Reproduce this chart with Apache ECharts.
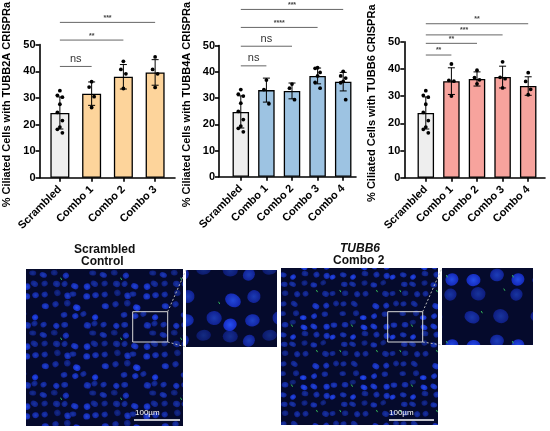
<!DOCTYPE html>
<html>
<head>
<meta charset="utf-8">
<script src="https://cdn.jsdelivr.net/npm/echarts@6/dist/echarts.min.js"></script>
<style>
    html, body { margin: 0; padding: 0; background: #fff; }
    #main { width: 550px; height: 431px; }
</style>
</head>
<body>
<div id="main"></div>
<script>
    // ---- data ----
    var cats2a = ['Scrambled', 'Combo 1', 'Combo 2', 'Combo 3'];
    var cats4a = ['Scrambled', 'Combo 1', 'Combo 2', 'Combo 3', 'Combo 4'];
    var cats6 = ['Scrambled', 'Combo 1', 'Combo 2', 'Combo 3', 'Combo 4'];

    var yTicks = [0, 10, 20, 30, 40, 50];

    var scrambledPts = [32.0, 30.3, 29.6, 27.0, 24.0, 21.0, 18.6, 17.8, 16.5];

    var mean2a = [23.8, 30.9, 37.1, 38.7];
    var sd2a = [5.9, 4.3, 4.5, 4.7];
    var pts2a = [scrambledPts, [35.3, 33.3, 29.8, 25.8], [42.8, 39.8, 38.2, 32.8], [44.4, 39.8, 38.2, 33.2]];
    var sig2a = [[0, 1, 40.9, 'ns'], [0, 2, 50.6, '**'], [0, 3, 57.1, '***']];

    var mean4a = [23.8, 31.8, 31.5, 37.0, 34.9];
    var sd4a = [5.9, 4.4, 2.9, 2.9, 3.4];
    var pts4a = [scrambledPts, [35.5, 32.0, 26.8], [34.0, 32.5, 28.3], [40.0, 39.8, 38.3, 37.0, 34.6, 32.5], [38.7, 37.0, 36.2, 35.0, 34.5, 28.3]];
    var sig4a = [[0, 1, 40.7, 'ns'], [0, 2, 47.9, 'ns'], [0, 3, 54.8, '****'], [0, 4, 61.4, '***']];

    var mean6 = [23.8, 35.5, 36.3, 37.0, 33.7];
    var sd6 = [5.9, 4.9, 2.6, 4.0, 3.4];
    var pts6 = [scrambledPts, [41.8, 35.8, 35.5, 30.0], [39.5, 36.8, 36.0, 34.5], [42.6, 36.9, 36.4, 33.0], [38.6, 35.4, 32.5, 30.5]];
    var sig6 = [[0, 1, 45.1, '**'], [0, 2, 49.4, '**'], [0, 3, 52.5, '***'], [0, 4, 56.6, '**']];

    // ---- layout ----
    var panels = [
        { cats: cats2a, mean: mean2a, sd: sd2a, pts: pts2a, sig: sig2a, color: '#FDD49B',
          title: '% Ciliated Cells with TUBB2A CRISPRa',
          axisX: 39.5, bandL: 44, bandR: 171, lineR: 175, top: 41.7, zero: 177.7, barW: 19 },
        { cats: cats4a, mean: mean4a, sd: sd4a, pts: pts4a, sig: sig4a, color: '#9DC3E2',
          title: '% Ciliated Cells with TUBB4A CRISPRa',
          axisX: 219, bandL: 228, bandR: 356, lineR: 356, top: 40.5, zero: 176.8, barW: 16.5 },
        { cats: cats6, mean: mean6, sd: sd6, pts: pts6, sig: sig6, color: '#F7A39D',
          title: '% Ciliated Cells with TUBB6 CRISPRa',
          axisX: 404.3, bandL: 413, bandR: 541, lineR: 545, top: 41.7, zero: 177.7, barW: 16.5 }
    ];

    var FONT = 'Arial, "Liberation Sans", sans-serif';
    var grids = [], xAxes = [], yAxes = [], series = [];

    panels.forEach(function (p, i) {
        var a = 2 * i, b = 2 * i + 1;
        grids.push({ left: p.axisX, width: p.lineR - p.axisX, top: p.top, height: p.zero - p.top });
        grids.push({ left: p.bandL, width: p.bandR - p.bandL, top: p.top, height: p.zero - p.top });

        // axis frame (y axis + baseline)
        xAxes.push({
            type: 'value', gridIndex: a, min: 0, max: 1,
            axisLine: { show: true, lineStyle: { color: '#000', width: 1.6 } },
            axisTick: { show: false }, axisLabel: { show: false }, splitLine: { show: false }
        });
        yAxes.push({
            type: 'value', gridIndex: a, min: yTicks[0], max: yTicks[yTicks.length - 1], interval: 10,
            name: p.title, nameLocation: 'middle', nameGap: 27, nameRotate: 90,
            nameTextStyle: { fontFamily: FONT, fontWeight: 'bold', fontSize: 11, color: '#000', padding: [0, 0, 0, 13] },
            axisLine: { show: true, lineStyle: { color: '#000', width: 1.6 } },
            axisTick: { show: true, length: 4, lineStyle: { color: '#000', width: 1.6 } },
            axisLabel: { fontFamily: FONT, fontWeight: 'bold', fontSize: 11, color: '#000', margin: 4 },
            splitLine: { show: false }
        });

        // category axis for the bars
        xAxes.push({
            type: 'category', gridIndex: b, data: p.cats,
            axisLine: { show: false },
            axisTick: { show: true, alignWithLabel: true, length: 4, lineStyle: { color: '#000', width: 1.6 } },
            axisLabel: { rotate: 45, fontFamily: FONT, fontWeight: 'bold', fontSize: 11, color: '#000', margin: 10, interval: 0 }
        });
        yAxes.push({ type: 'value', gridIndex: b, min: 0, max: 50, show: false });

        series.push({
            type: 'bar', xAxisIndex: b, yAxisIndex: b, barWidth: p.barW,
            data: p.mean.map(function (m, j) {
                return { value: m, itemStyle: { color: j === 0 ? '#EEEEEE' : p.color } };
            }),
            itemStyle: { borderColor: '#000', borderWidth: 1.3 },
            silent: true, z: 2
        });

        // error bars (mean ± SD)
        series.push({
            type: 'custom', xAxisIndex: b, yAxisIndex: b, z: 3, silent: true,
            encode: { x: 0, y: 1 },
            data: p.mean.map(function (m, j) { return [j, m, p.sd[j]]; }),
            renderItem: function (params, api) {
                var x = api.value(0), m = api.value(1), s = api.value(2);
                var hi = api.coord([x, m + s]), lo = api.coord([x, m - s]);
                var w = 3.5, st = { stroke: '#000', lineWidth: 1 };
                return { type: 'group', children: [
                    { type: 'line', shape: { x1: hi[0], y1: hi[1], x2: lo[0], y2: lo[1] }, style: st },
                    { type: 'line', shape: { x1: hi[0] - w, y1: hi[1], x2: hi[0] + w, y2: hi[1] }, style: st },
                    { type: 'line', shape: { x1: lo[0] - w, y1: lo[1], x2: lo[0] + w, y2: lo[1] }, style: st }
                ] };
            }
        });

        // individual replicate points
        var ptData = [];
        p.pts.forEach(function (arr, j) {
            arr.forEach(function (v, k) { ptData.push([j, v, k]); });
        });
        series.push({
            type: 'custom', xAxisIndex: b, yAxisIndex: b, z: 4, silent: true,
            encode: { x: 0, y: 1 },
            data: ptData,
            renderItem: function (params, api) {
                var c = api.coord([api.value(0), api.value(1)]);
                var off = [0, -2.5, 2.5][api.value(2) % 3];
                return { type: 'circle', shape: { cx: c[0] + off, cy: c[1], r: 1.9 }, style: { fill: '#000' } };
            }
        });

        // significance brackets
        series.push({
            type: 'custom', xAxisIndex: b, yAxisIndex: b, z: 5, silent: true, clip: false,
            encode: { x: 0, y: 2 },
            data: p.sig.map(function (s) { return [s[0], s[1], s[2]]; }),
            renderItem: function (params, api) {
                var y = api.value(2);
                var s = api.coord([api.value(0), y]), e = api.coord([api.value(1), y]);
                var lab = p.sig[params.dataIndex][3];
                var isNs = lab === 'ns';
                return { type: 'group', children: [
                    { type: 'line', shape: { x1: s[0], y1: s[1], x2: e[0], y2: e[1] },
                      style: { stroke: '#666', lineWidth: 1 } },
                    { type: 'text', x: (s[0] + e[0]) / 2, y: s[1] - (isNs ? 2 : 1),
                      style: { text: lab, fill: isNs ? '#333' : '#444', align: 'center', verticalAlign: 'bottom',
                               font: (isNs ? 'normal 11px ' : 'bold 7px ') + FONT } }
                ] };
            }
        });
    });

    // ---- microscopy panels: a nuclei texture standing in for the photos ----
    function frac(v) { return v - Math.floor(v); }
    function nucleiTile(size, n, rx, ry, greens, seed) {
        var c = document.createElement('canvas');
        c.width = c.height = size;
        var g = c.getContext('2d');
        g.fillStyle = '#050a2c';
        g.fillRect(0, 0, size, size);
        var step = size / n;
        for (var r = 0; r < n; r++) {
            for (var q = 0; q < n; q++) {
                var h1 = frac(Math.sin((r * 7 + q * 13 + seed) * 12.9898) * 43758.5453);
                var h2 = frac(Math.sin((r * 11 + q * 5 + seed) * 78.233) * 43758.5453);
                var h3 = frac(Math.sin((r * 3 + q * 17 + seed) * 39.425) * 43758.5453);
                if (h3 > 0.86) continue;
                var cx = (q + 0.5 + (h1 - 0.5) * 0.55) * step;
                var cy = (r + 0.5 + (h2 - 0.5) * 0.55) * step;
                var sx = rx * (0.85 + h3 * 0.3), sy = ry * (0.85 + h1 * 0.3);
                var bright = 0.5 + h2 * 0.45;
                for (var ox = -size; ox <= size; ox += size) {
                    for (var oy = -size; oy <= size; oy += size) {
                        var px = cx + ox, py = cy + oy;
                        var grd = g.createRadialGradient(px, py, 0, px, py, Math.max(sx, sy));
                        grd.addColorStop(0, 'rgb(' + Math.round(40 * bright) + ',' + Math.round(85 * bright) + ',' + Math.round(255 * bright) + ')');
                        grd.addColorStop(1, 'rgb(' + Math.round(22 * bright) + ',' + Math.round(45 * bright) + ',' + Math.round(205 * bright) + ')');
                        g.fillStyle = grd;
                        g.beginPath();
                        g.ellipse(px, py, sx, sy, (h3 - 0.5) * 1.6, 0, Math.PI * 2);
                        g.fill();
                    }
                }
            }
        }
        g.strokeStyle = '#32b85a';
        g.lineWidth = 1;
        for (var k = 0; k < greens; k++) {
            var gx = frac(Math.sin((k + seed) * 91.7) * 43758.5) * size;
            var gy = frac(Math.sin((k + seed) * 27.3) * 43758.5) * size;
            g.beginPath();
            g.moveTo(gx, gy);
            g.lineTo(gx + 1.2, gy + 2.2);
            g.stroke();
        }
        return c;
    }

    var tileL = nucleiTile(60, 6, 3.5, 2.9, 1, 1);
    var tileR = nucleiTile(60, 6, 3.3, 2.7, 3, 5);
    var insetL = nucleiTile(66, 3, 7.5, 6.2, 1, 2);
    var insetR = nucleiTile(66, 3, 7.2, 6.0, 3, 9);

    var TXT = 'bold 12px ' + FONT;
    var graphics = [
        { type: 'text', left: 74, top: 244, style: { text: 'Scrambled', font: TXT, fill: '#111' } },
        { type: 'text', left: 81, top: 256, style: { text: 'Control', font: TXT, fill: '#111' } },
        { type: 'text', left: 340, top: 243, style: { text: 'TUBB6', font: 'italic bold 12px ' + FONT, fill: '#111' } },
        { type: 'text', left: 333, top: 255, style: { text: 'Combo 2', font: TXT, fill: '#111' } },

        { type: 'rect', shape: { x: 26, y: 269, width: 157, height: 157 }, style: { fill: { image: tileL, repeat: 'repeat' } } },
        { type: 'rect', shape: { x: 186, y: 270, width: 91, height: 77 }, style: { fill: { image: insetL, repeat: 'repeat' } } },
        { type: 'rect', shape: { x: 281, y: 268, width: 157, height: 157 }, style: { fill: { image: tileR, repeat: 'repeat' } } },
        { type: 'rect', shape: { x: 442, y: 268, width: 91, height: 77 }, style: { fill: { image: insetR, repeat: 'repeat' } } },

        { type: 'rect', shape: { x: 132.7, y: 311.7, width: 35, height: 30.3 }, style: { fill: 'none', stroke: '#d8d8d8', lineWidth: 1 } },
        { type: 'rect', shape: { x: 387.7, y: 311.7, width: 35, height: 30.3 }, style: { fill: 'none', stroke: '#d8d8d8', lineWidth: 1 } },
        { type: 'line', shape: { x1: 167.7, y1: 311.7, x2: 186, y2: 270 }, style: { stroke: '#bbb', lineWidth: 1, lineDash: [2, 2] } },
        { type: 'line', shape: { x1: 167.7, y1: 342, x2: 186, y2: 347 }, style: { stroke: '#bbb', lineWidth: 1, lineDash: [2, 2] } },
        { type: 'line', shape: { x1: 422.7, y1: 311.7, x2: 442, y2: 268 }, style: { stroke: '#bbb', lineWidth: 1, lineDash: [2, 2] } },
        { type: 'line', shape: { x1: 422.7, y1: 342, x2: 442, y2: 345 }, style: { stroke: '#bbb', lineWidth: 1, lineDash: [2, 2] } },

        { type: 'line', shape: { x1: 134, y1: 420, x2: 180, y2: 420 }, style: { stroke: '#fff', lineWidth: 1.5 } },
        { type: 'text', left: 135, top: 409, style: { text: '100µm', font: '8px ' + FONT, fill: '#fff' } },
        { type: 'line', shape: { x1: 389, y1: 420, x2: 434, y2: 420 }, style: { stroke: '#fff', lineWidth: 1.5 } },
        { type: 'text', left: 389, top: 409, style: { text: '100µm', font: '8px ' + FONT, fill: '#fff' } }
    ];

    var chart = echarts.init(document.getElementById('main'), null, { renderer: 'canvas' });
    chart.setOption({
        animation: false,
        grid: grids,
        xAxis: xAxes,
        yAxis: yAxes,
        series: series,
        graphic: graphics
    });
</script>
</body>
</html>
